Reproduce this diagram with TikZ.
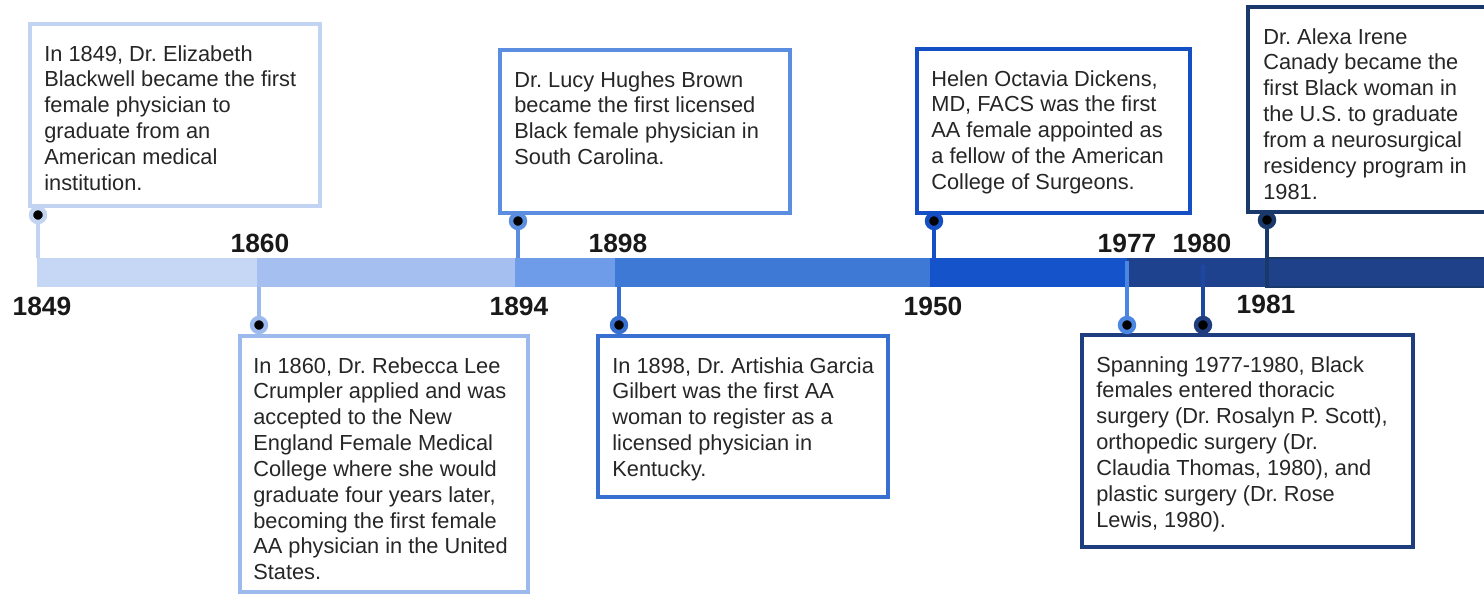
\documentclass[tikz,border=0pt]{standalone}
\usepackage{fontspec}
\setmainfont{Liberation Sans}
\usetikzlibrary{positioning}

\definecolor{c1849}{HTML}{C3D4F2}
\definecolor{c1860}{HTML}{9DBAEE}
\definecolor{c1894}{HTML}{5B8DE0}
\definecolor{c1898}{HTML}{3870D2}
\definecolor{c1950}{HTML}{1450C4}
\definecolor{c1977}{HTML}{4A86E2}
\definecolor{c1980}{HTML}{1D47A0}
\definecolor{c7780}{HTML}{1F3E80}
\definecolor{c1981}{HTML}{18396A}
\definecolor{b1849}{HTML}{C6D7F5}
\definecolor{b1860}{HTML}{A4BFF0}
\definecolor{b1894}{HTML}{6E9CE8}
\definecolor{b1898}{HTML}{3F79D6}
\definecolor{b1950}{HTML}{1453C9}
\definecolor{b1977}{HTML}{1E428E}
\definecolor{b1981}{HTML}{1E4189}
\definecolor{ink}{HTML}{262626}

\begin{document}
\frenchspacing
\begin{tikzpicture}[x=0.02cm,y=-0.02cm]
\tikzstyle{card} = [rectangle, draw, line width=2.3pt, fill=white, inner sep=0pt]
\tikzstyle{txt} = [align=left, inner sep=0pt, text=ink, font=\fontsize{12.4}{14.7}\selectfont]
\tikzstyle{seg} = [rectangle, inner sep=0pt, minimum height=0.58cm, anchor=west]
\tikzstyle{knob} = [circle, fill=black, line width=2.5pt, minimum size=0.28cm, inner sep=0pt]
\tikzstyle{stem} = [line width=2.3pt]
\tikzstyle{year} = [font=\fontsize{15}{17}\selectfont\bfseries, text=black!90, inner sep=0pt]

\path[use as bounding box, fill=white] (0,0) rectangle (1484,593);

% the bar
\node[seg, fill=b1849, minimum width=4.4cm] (seg1849) at (37,272.5) {};
\node[seg, fill=b1860, minimum width=5.16cm] (seg1860) at (257,272.5) {};
\node[seg, fill=b1894, minimum width=2.0cm] (seg1894) at (515,272.5) {};
\node[seg, fill=b1898, minimum width=6.3cm] (seg1898) at (615,272.5) {};
\node[seg, fill=b1950, minimum width=3.94cm] (seg1950) at (930,272.5) {};
\node[seg, fill=b1977, minimum width=2.76cm] (seg1977) at (1127,272.5) {};
\node[seg, fill=b1981, draw=c1981, line width=1pt, minimum width=4.5cm] (seg1981) at (1265,272.5) {};

% top row
\node[card, draw=c1849, minimum width=5.8cm, minimum height=3.64cm] (b1849) at (175,115) {};
\node[card, draw=c1894, minimum width=5.8cm, minimum height=3.26cm] (b1894) at (645,131.5) {};
\node[card, draw=c1950, minimum width=5.46cm, minimum height=3.28cm] (b1950) at (1053.5,131) {};
\node[card, draw=c1981, minimum width=5.04cm, minimum height=4.1cm] (b1981) at (1374,109.5) {};
% bottom row
\node[card, draw=c1860, minimum width=5.76cm, minimum height=5.12cm] (b1860) at (384,464) {};
\node[card, draw=c1898, minimum width=5.8cm, minimum height=3.22cm] (b1898) at (743,416.5) {};
\node[card, draw=c7780, minimum width=6.62cm, minimum height=4.24cm] (b7780) at (1247.5,441) {};

\node[knob, draw=c1849] (k1849) at (38,215) {};
\node[knob, draw=c1860] (k1860) at (259,325) {};
\node[knob, draw=c1894] (k1894) at (518,221) {};
\node[knob, draw=c1898] (k1898) at (619,325) {};
\node[knob, draw=c1950] (k1950) at (934,221) {};
\node[knob, draw=c1977] (k1977) at (1127,325) {};
\node[knob, draw=c7780] (k1980) at (1203,325) {};
\node[knob, draw=c1981] (k1981) at (1267,220) {};

\draw[stem, c1849] (k1849.south) -- (k1849 |- seg1849.north);
\draw[stem, c1860] (seg1860.south -| k1860) -- (k1860.north);
\draw[stem, c1894] (k1894.south) -- (k1894 |- seg1894.north);
\draw[stem, c1898] (seg1898.south -| k1898) -- (k1898.north);
\draw[stem, c1950] (k1950.south) -- (k1950 |- seg1950.north);
\draw[stem, c1977] ([yshift=-2pt]k1977 |- seg1977.north) -- (k1977.north);
\draw[stem, c1980] ([yshift=-4pt]k1980 |- seg1977.north) -- (k1980.north);
\draw[stem, c1981] (k1981.south) -- (k1981 |- seg1981.south);

\node[txt, below right=0.46cm and 0.32cm of b1849.north west] (t1849) {In 1849, Dr. Elizabeth\\Blackwell became the first\\female physician to\\graduate from an\\American medical\\institution.};
\node[txt, below right=0.46cm and 0.3cm of b1860.north west] (t1860) {In 1860, Dr. Rebecca Lee\\Crumpler applied and was\\accepted to the New\\England Female Medical\\College where she would\\graduate four years later,\\becoming the first female\\AA physician in the United\\States.};
\node[txt, below right=0.46cm and 0.32cm of b1894.north west] (t1894) {Dr. Lucy Hughes Brown\\became the first licensed\\Black female physician in\\South Carolina.};
\node[txt, below right=0.46cm and 0.32cm of b1898.north west] (t1898) {In 1898, Dr. Artishia Garcia\\Gilbert was the first AA\\woman to register as a\\licensed physician in\\Kentucky.};
\node[txt, below right=0.46cm and 0.32cm of b1950.north west] (t1950) {Helen Octavia Dickens,\\MD, FACS was the first\\AA female appointed as\\a fellow of the American\\College of Surgeons.};
\node[txt, below right=0.46cm and 0.32cm of b7780.north west] (t7780) {Spanning 1977-1980, Black\\females entered thoracic\\surgery (Dr. Rosalyn P. Scott),\\orthopedic surgery (Dr.\\Claudia Thomas, 1980), and\\plastic surgery (Dr. Rose\\Lewis, 1980).};
\node[txt, below right=0.46cm and 0.34cm of b1981.north west] (t1981) {Dr. Alexa Irene\\Canady became the\\first Black woman in\\the U.S. to graduate\\from a neurosurgical\\residency program in\\1981.};

% years
\node[year] (y1849) at (42,306) {1849};
\node[year] (y1860) at (260,243) {1860};
\node[year] (y1894) at (519,306) {1894};
\node[year] (y1898) at (618,243) {1898};
\node[year] (y1950) at (933,306) {1950};
\node[year] (y1977) at (1127,243) {1977};
\node[year] (y1980) at (1202,243) {1980};
\node[year] (y1981) at (1266,304) {1981};
\end{tikzpicture}
\end{document}
